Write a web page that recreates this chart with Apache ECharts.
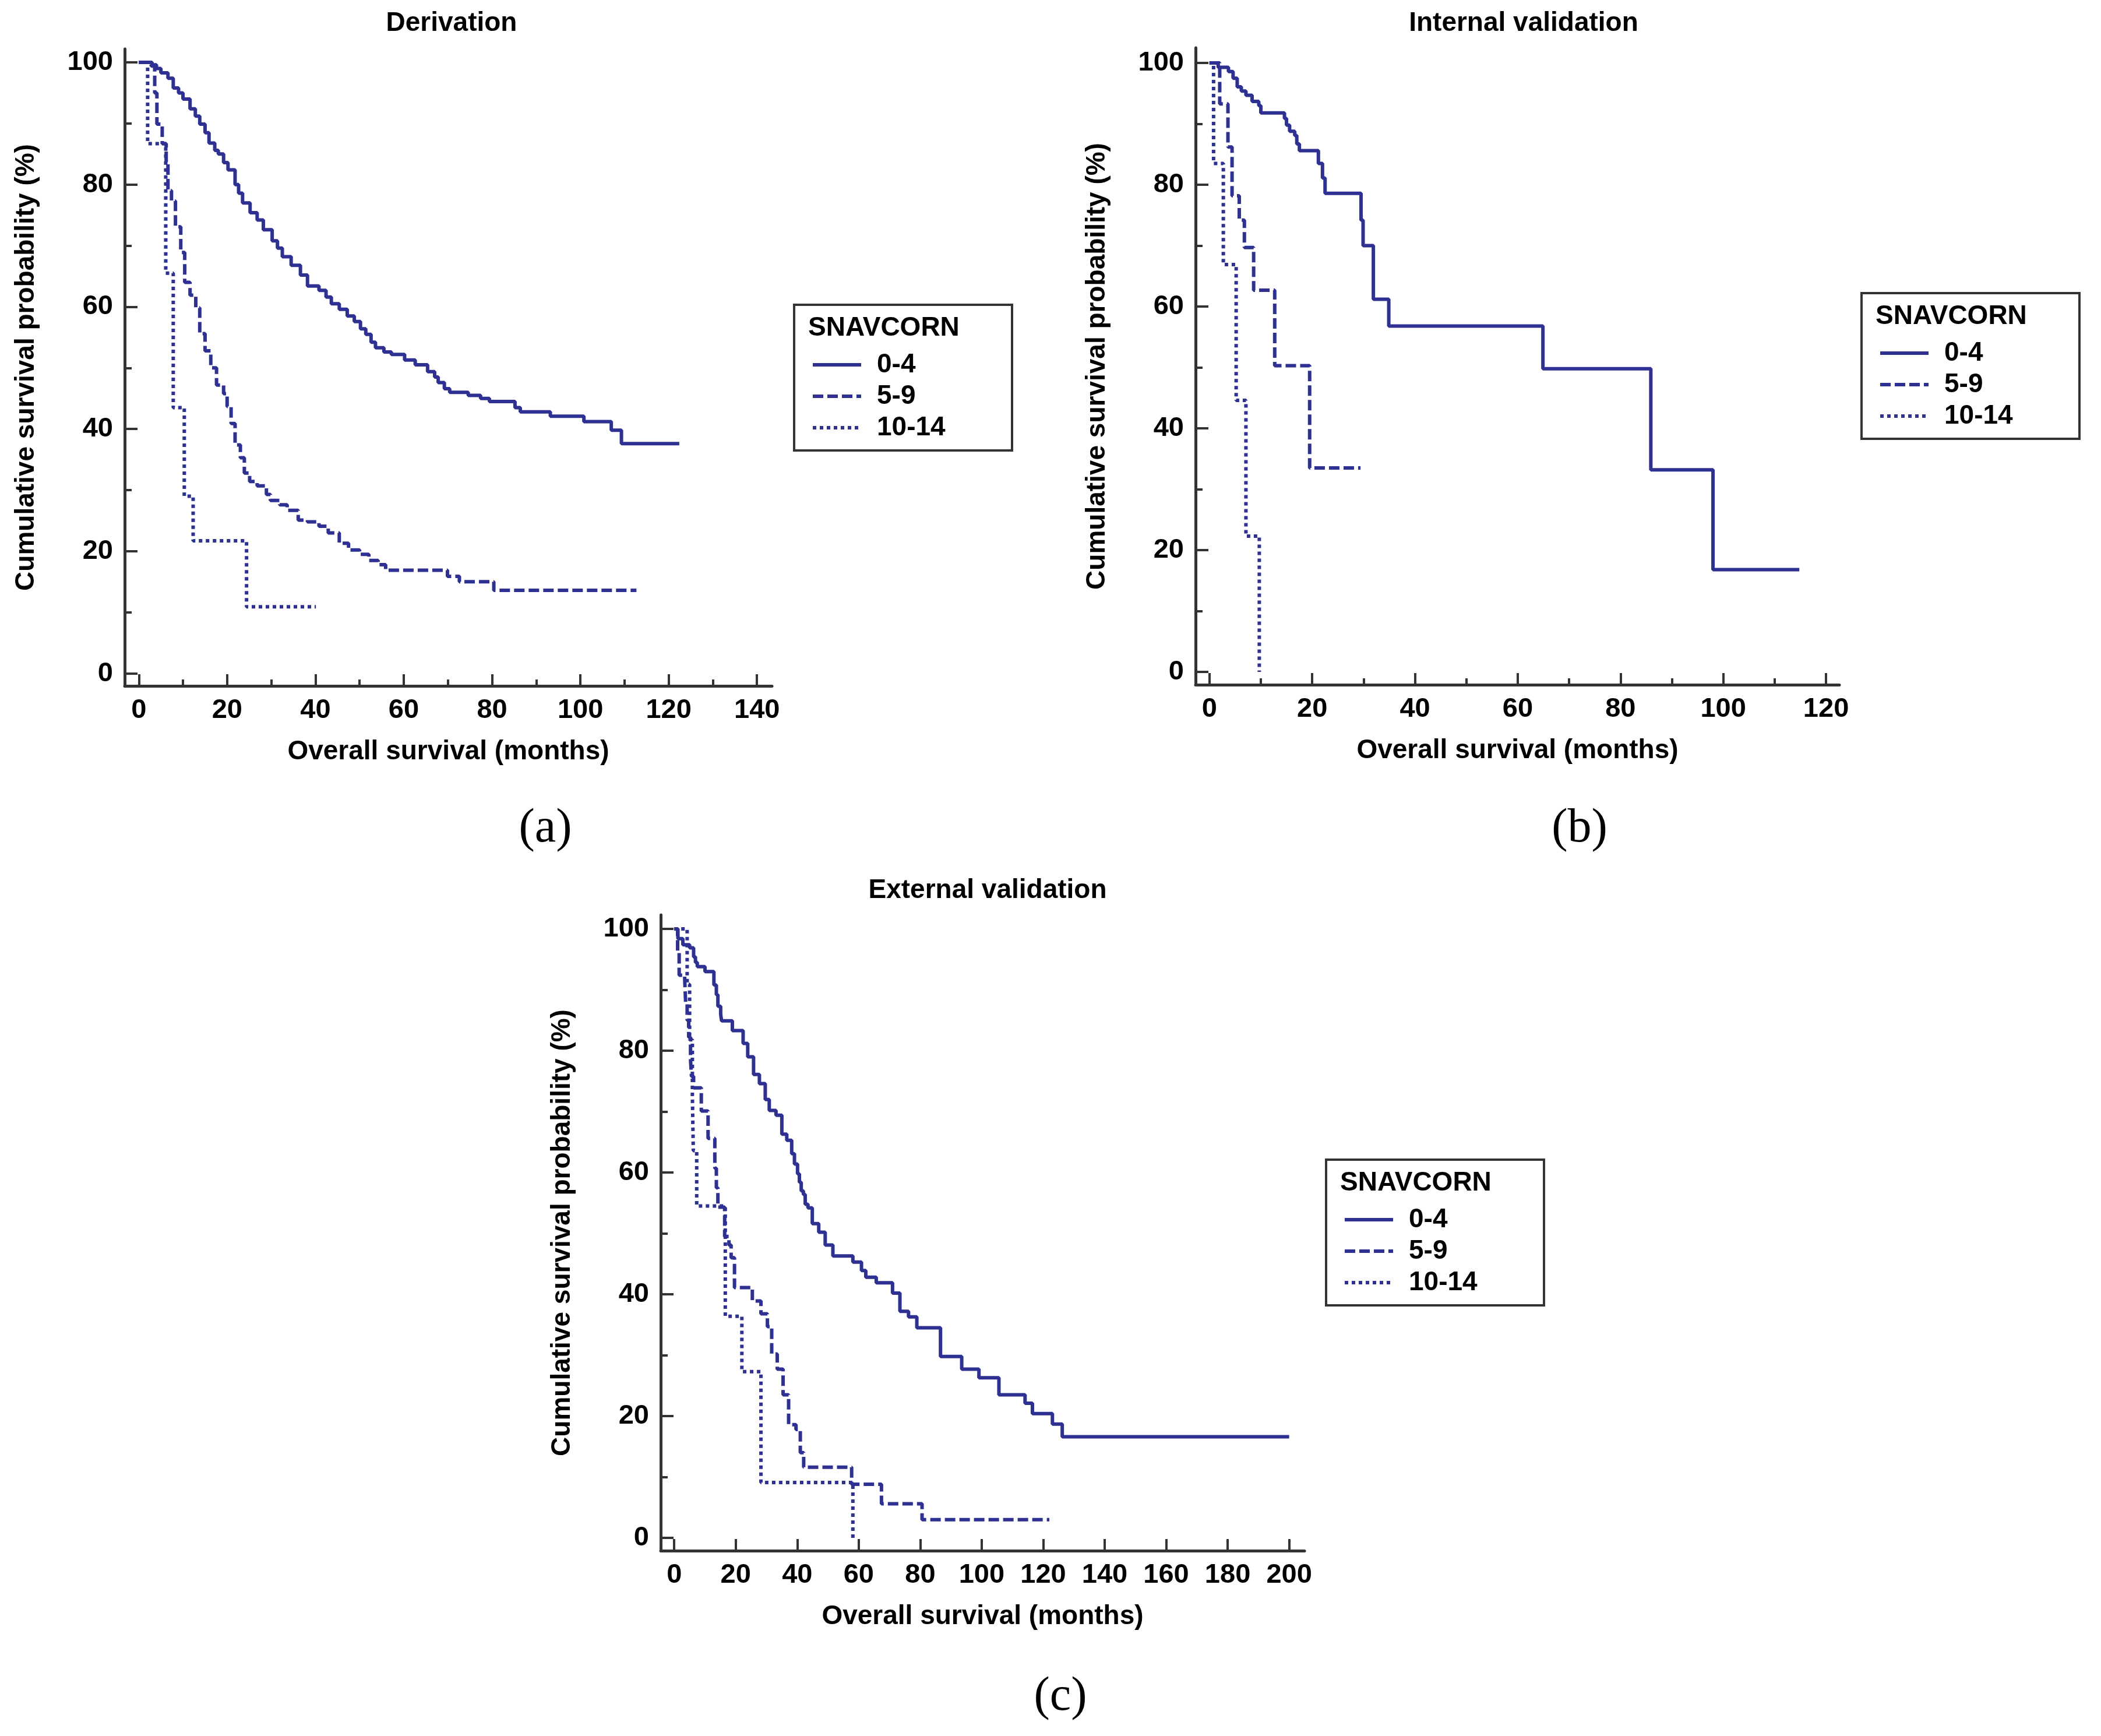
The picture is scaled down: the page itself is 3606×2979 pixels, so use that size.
<!DOCTYPE html>
<html>
<head>
<meta charset="utf-8">
<script src="https://cdn.jsdelivr.net/npm/echarts@6/dist/echarts.min.js"></script>
<style>
  html, body { margin: 0; padding: 0; background: #fff; }
  #main { width: 3606px; height: 2979px; }
</style>
</head>
<body>
<div id="main"></div>
<script>
// ---- data ----
var groups = ['0-4', '5-9', '10-14'];
var panelTitles = ['Derivation', 'Internal validation', 'External validation'];
var panelTags = ['(a)', '(b)', '(c)'];
var xName = 'Overall survival (months)';
var yName = 'Cumulative survival probability (%)';
var legendTitle = 'SNAVCORN';

var xMajorA = [0, 20, 40, 60, 80, 100, 120, 140];
var xMinorA = [10, 30, 50, 70, 90, 110, 130];
var xMajorB = [0, 20, 40, 60, 80, 100, 120];
var xMinorB = [10, 30, 50, 70, 90, 110];
var xMajorC = [0, 20, 40, 60, 80, 100, 120, 140, 160, 180, 200];
var yMajor = [0, 20, 40, 60, 80, 100];
var yMinor = [10, 30, 50, 70, 90];

// [month, survival %] after each drop
var derivLow = [[0,100],[3.0,99.6],[4.0,99.0],[5.0,98.3],[6.6,97.4],[7.8,95.8],[9.0,95.0],[10.0,94.0],[11.6,92.4],[12.8,91.2],[13.8,89.9],[15.0,88.5],[15.9,86.8],[17.2,85.6],[18.0,85.0],[19.2,83.6],[20.2,82.4],[21.8,80.0],[22.6,78.6],[23.5,77.0],[25.2,75.4],[26.8,74.2],[28.2,72.6],[30.2,70.8],[31.4,69.6],[32.5,68.2],[34.5,66.8],[36.6,65.2],[38.2,63.4],[40.8,62.7],[42.4,61.6],[43.6,60.5],[45.4,59.6],[47.2,58.5],[48.8,57.6],[50.2,56.4],[51.4,55.5],[52.6,54.2],[53.6,53.3],[55.5,52.6],[57.2,52.2],[60.2,51.3],[62.6,50.5],[65.4,49.4],[67.0,48.5],[67.8,47.6],[69.2,46.6],[70.4,46.0],[74.6,45.5],[77.4,45.0],[79.4,44.5],[85.2,43.5],[86.4,42.8],[93.2,42.1],[100.8,41.2],[107.0,39.8],[109.3,37.6],[122.4,37.6]];
var derivMid = [[0,100],[2.8,99.4],[3.6,95.0],[4.1,89.9],[5.3,86.7],[6.2,83.6],[6.6,79.0],[7.4,77.3],[8.3,73.1],[9.5,68.9],[10.4,64.0],[11.6,61.9],[12.9,59.8],[13.8,55.6],[15.0,52.8],[16.3,50.0],[17.6,47.2],[19.2,45.8],[20.0,43.7],[20.9,40.9],[21.8,37.4],[23.0,35.3],[23.9,32.8],[25.1,31.4],[26.8,30.7],[28.9,29.3],[29.8,28.3],[31.9,27.6],[33.6,26.7],[36.1,25.1],[38.2,24.8],[40.8,24.1],[42.9,23.0],[45.4,21.3],[47.5,20.2],[50.0,19.5],[52.1,18.5],[54.2,17.8],[55.9,16.9],[69.9,15.9],[72.6,15.0],[80.4,13.6],[112.7,13.6]];
var derivHigh = [[0,100],[2.0,86.7],[6.1,65.5],[7.8,43.5],[10.3,29.0],[12.3,21.7],[24.4,10.9],[40.1,10.9]];

var internalLow = [[0,100],[1.7,99.3],[3.7,98.6],[4.6,97.5],[5.4,96.1],[6.2,95.4],[7.1,94.7],[8.3,93.7],[9.6,93.0],[10.0,91.8],[14.6,90.9],[15.0,89.8],[15.6,88.8],[16.6,88.1],[17.0,86.7],[17.5,85.6],[21.2,83.5],[22.0,81.1],[22.5,78.6],[29.5,74.2],[29.9,70.0],[31.9,61.2],[34.9,56.8],[64.9,49.8],[85.9,33.2],[98.0,16.8],[114.8,16.8]];
var internalMid = [[0,100],[2.0,93.3],[3.6,86.2],[4.4,78.2],[5.8,74.2],[6.8,69.7],[8.6,62.7],[12.7,50.3],[19.5,33.5],[29.4,33.5]];
var internalHigh = [[0,100],[0.8,83.5],[2.7,66.9],[5.2,44.6],[7.1,22.3],[9.7,0]];

var externalLow = [[0,100],[1.2,98.4],[2.8,97.4],[5.0,96.9],[6.3,95.4],[6.9,94.5],[7.5,93.8],[10.0,93.0],[12.9,90.8],[13.7,89.2],[14.2,87.3],[15.1,86.0],[15.4,84.9],[18.9,83.3],[22.4,81.2],[23.9,79.0],[25.8,76.1],[27.7,74.6],[29.6,72.0],[30.9,70.2],[33.1,69.4],[35.0,66.3],[36.6,65.3],[38.2,63.1],[39.1,61.4],[40.1,59.8],[40.7,58.4],[41.3,57.0],[42.0,56.4],[42.6,54.8],[43.5,54.2],[44.9,51.6],[47.0,50.2],[49.1,48.1],[51.6,46.3],[58.1,45.3],[60.9,43.9],[62.3,42.8],[65.7,41.9],[71.0,40.2],[73.4,37.2],[76.2,36.3],[78.9,34.5],[86.6,29.8],[93.5,27.7],[99.1,26.3],[105.6,23.5],[114.1,22.1],[116.5,20.4],[123.0,18.7],[126.2,16.6],[200,16.6]];
var externalMid = [[0,100],[1.1,96.2],[1.6,92.4],[3.4,91.8],[3.7,88.0],[4.2,85.0],[4.7,82.2],[5.3,78.5],[5.6,75.8],[6.3,73.9],[8.8,70.1],[11.0,65.6],[13.2,60.7],[13.7,57.5],[14.2,54.3],[16.4,49.5],[17.8,48.1],[18.5,46.0],[19.6,41.1],[25.4,38.9],[28.2,36.8],[30.3,34.7],[31.7,30.2],[33.5,27.7],[35.4,23.5],[37.2,18.6],[39.6,17.8],[41.0,14.0],[42.1,11.6],[57.7,8.8],[67.4,5.6],[80.6,3.0],[122.0,3.0]];
var externalHigh = [[0,100],[4.2,90.9],[5.0,81.8],[5.9,72.7],[6.2,63.6],[7.3,54.5],[16.6,36.4],[22.0,27.3],[28.2,9.1],[58.1,0]];

// ---- layout ----
var FONT = 'Liberation Sans, Arial, sans-serif';
var INK = '#2E3192';
var AXIS = '#333333';
var dashes = ['solid', [18, 7], [6, 6]];

var panels = [
  { grid: { left: 214, top: 84, width: 1111, height: 1093 }, x: [-3.2, 143.4], y: [-2.04, 102.2],
    xMajor: xMajorA, xMinor: xMinorA, title: [775, 40], tag: [936, 1422], box: [1363, 523],
    curves: [derivLow, derivMid, derivHigh] },
  { grid: { left: 2052, top: 82, width: 1105, height: 1093 }, x: [-2.7, 122.6], y: [-2.1, 102.5],
    xMajor: xMajorB, xMinor: xMinorB, title: [2615, 40], tag: [2711, 1422], box: [3195, 503],
    curves: [internalLow, internalMid, internalHigh] },
  { grid: { left: 1134, top: 1570, width: 1105, height: 1091 }, x: [-4.4, 205], y: [-2.1, 102.3],
    xMajor: xMajorC, xMinor: [], title: [1695, 1528], tag: [1820, 2912], box: [2276, 1990],
    curves: [externalLow, externalMid, externalHigh] }
];

var nameStyle = { fontSize: 46, fontWeight: 'bold', color: '#000', fontFamily: FONT };
var tickStyle = { fontSize: 47, fontWeight: 'bold', color: '#000', fontFamily: FONT };

var grids = [], xAxes = [], yAxes = [], series = [], legends = [], graphics = [];

panels.forEach(function (p, i) {
  grids.push(p.grid);

  // major x axis with labels + minor tick axis
  xAxes.push({
    type: 'value', gridIndex: i, min: p.x[0], max: p.x[1], position: 'bottom',
    axisLine: { show: true, onZero: false, lineStyle: { color: AXIS, width: 5 } },
    axisTick: { show: true, inside: true, length: 20, customValues: p.xMajor, lineStyle: { color: AXIS, width: 4 } },
    axisLabel: Object.assign({ show: true, customValues: p.xMajor, margin: 19 }, tickStyle),
    splitLine: { show: false },
    name: xName, nameLocation: 'middle', nameGap: 90,
    nameTextStyle: nameStyle
  });
  xAxes.push({
    type: 'value', gridIndex: i, min: p.x[0], max: p.x[1], position: 'bottom',
    axisLine: { show: false, onZero: false },
    axisTick: { show: p.xMinor.length > 0, inside: true, length: 11, customValues: p.xMinor, lineStyle: { color: AXIS, width: 4 } },
    axisLabel: { show: false },
    splitLine: { show: false }
  });

  yAxes.push({
    type: 'value', gridIndex: i, min: p.y[0], max: p.y[1], position: 'left',
    axisLine: { show: true, onZero: false, lineStyle: { color: AXIS, width: 5 } },
    axisTick: { show: true, inside: true, length: 22, customValues: yMajor, lineStyle: { color: AXIS, width: 4 } },
    axisLabel: Object.assign({ show: true, customValues: yMajor, margin: 20 }, tickStyle),
    splitLine: { show: false },
    name: yName, nameLocation: 'middle', nameGap: 146, nameRotate: 90,
    nameTextStyle: nameStyle
  });
  yAxes.push({
    type: 'value', gridIndex: i, min: p.y[0], max: p.y[1], position: 'left',
    axisLine: { show: false, onZero: false },
    axisTick: { show: true, inside: true, length: 12, customValues: yMinor, lineStyle: { color: AXIS, width: 4 } },
    axisLabel: { show: false },
    splitLine: { show: false }
  });

  p.curves.forEach(function (c, k) {
    series.push({
      type: 'line', name: groups[k], step: 'end', symbol: 'none',
      xAxisIndex: 2 * i, yAxisIndex: 2 * i,
      data: c,
      lineStyle: { color: INK, width: 6, type: dashes[k], cap: 'butt' },
      itemStyle: { color: INK },
      emphasis: { disabled: true },
      silent: true
    });
  });

  // legend box
  var bx = p.box[0], by = p.box[1];
  legends.push({
    orient: 'vertical', left: bx + 24, top: by + 71,
    itemWidth: 83, itemHeight: 14, itemGap: 0,
    selectedMode: false, data: groups,
    lineStyle: { width: 6 },
    itemStyle: { opacity: 0 },
    textStyle: { fontSize: 46, fontWeight: 'bold', color: '#000', fontFamily: FONT, lineHeight: 54, padding: [0, 0, 0, 22] }
  });
  graphics.push({
    type: 'rect', shape: { x: bx, y: by, width: 374, height: 250 },
    style: { fill: 'none', stroke: AXIS, lineWidth: 4 }, z: 1
  });
  graphics.push({
    type: 'text', x: bx + 24, y: by + 40,
    style: { text: legendTitle, fontSize: 46, fontWeight: 'bold', fill: '#000', fontFamily: FONT, verticalAlign: 'middle', align: 'left' }
  });

  // panel title and tag
  graphics.push({
    type: 'text', x: p.title[0], y: p.title[1],
    style: { text: panelTitles[i], fontSize: 46, fontWeight: 'bold', fill: '#000', fontFamily: FONT, align: 'center', verticalAlign: 'middle' }
  });
  graphics.push({
    type: 'text', x: p.tag[0], y: p.tag[1],
    style: { text: panelTags[i], fontSize: 82, fill: '#000', fontFamily: 'Liberation Serif, DejaVu Serif, serif', align: 'center', verticalAlign: 'middle' }
  });
});

var chart = echarts.init(document.getElementById('main'), null, { renderer: 'canvas' });
chart.setOption({
  backgroundColor: '#fff',
  animation: false,
  grid: grids,
  xAxis: xAxes,
  yAxis: yAxes,
  legend: legends,
  graphic: graphics,
  series: series
});
</script>
</body>
</html>
